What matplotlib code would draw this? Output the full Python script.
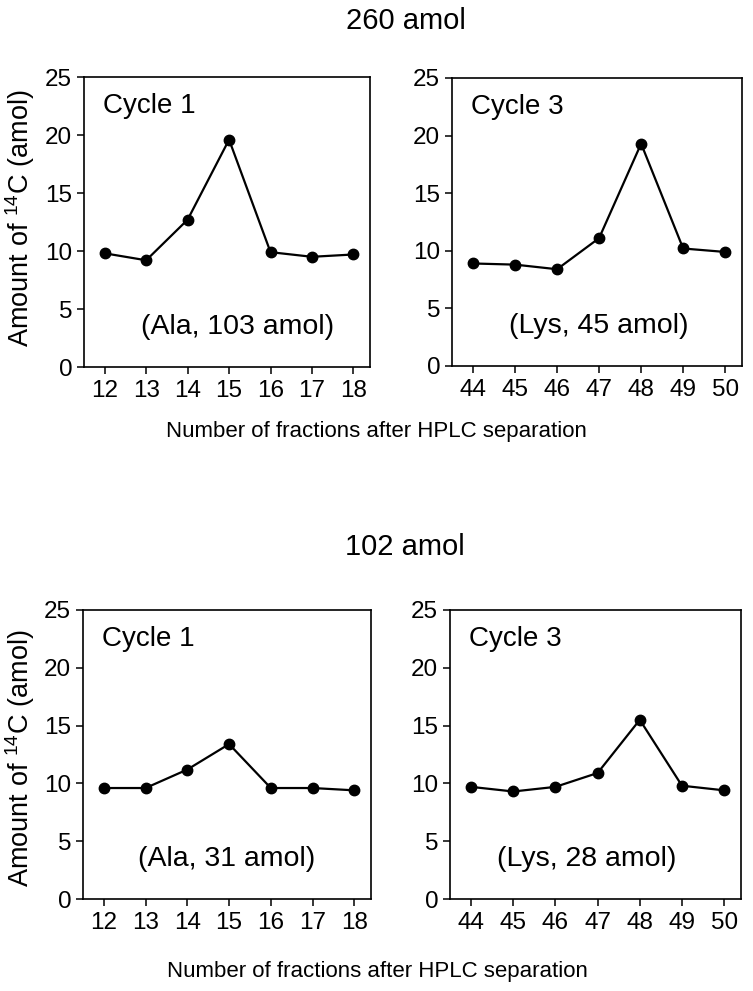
import matplotlib
matplotlib.use("Agg")
import matplotlib.pyplot as plt

plt.rcParams['font.family'] = ['Liberation Sans', 'DejaVu Sans']
plt.rcParams['mathtext.fontset'] = 'custom'
plt.rcParams['mathtext.rm'] = 'Liberation Sans'
plt.rcParams['mathtext.default'] = 'regular'

# Data
fractions_ala = [12, 13, 14, 15, 16, 17, 18]
fractions_lys = [44, 45, 46, 47, 48, 49, 50]
top_ala = [9.8, 9.2, 12.7, 19.6, 9.9, 9.5, 9.7]
top_lys = [8.9, 8.8, 8.4, 11.1, 19.3, 10.2, 9.9]
bot_ala = [9.6, 9.6, 11.2, 13.4, 9.6, 9.6, 9.4]
bot_lys = [9.7, 9.3, 9.7, 10.9, 15.5, 9.8, 9.4]
yticks = [0, 5, 10, 15, 20, 25]
group_titles = ["260 amol", "102 amol"]
cycle_labels = ["Cycle 1", "Cycle 3"]
notes_top = ["(Ala, 103 amol)", "(Lys, 45 amol)"]
notes_bot = ["(Ala, 31 amol)", "(Lys, 28 amol)"]
xlabel = "Number of fractions after HPLC separation"
ylabel = "Amount of $^{14}$C (amol)"

W, H = 753, 991
fig = plt.figure(figsize=(W / 100, H / 100), dpi=100)

def box(l, t, r, b):
    return [l / W, 1 - b / H, (r - l) / W, (b - t) / H]

panels = [
    (box(84, 77, 370, 367), fractions_ala, top_ala, cycle_labels[0], notes_top[0], 15.2),
    (box(452, 78, 742, 366), fractions_lys, top_lys, cycle_labels[1], notes_top[1], 47.0),
    (box(83, 610, 371, 899), fractions_ala, bot_ala, cycle_labels[0], notes_bot[0], 14.95),
    (box(450, 610, 741, 899), fractions_lys, bot_lys, cycle_labels[1], notes_bot[1], 46.75),
]

for rect, xs, ys, cyc, note, nx in panels:
    ax = fig.add_axes(rect)
    ax.plot(xs, ys, color='black', lw=1.6, marker='o', ms=7.5)
    ax.set_xlim(xs[0] - 0.5, xs[-1] + 0.4)
    ax.set_ylim(0, 25)
    ax.set_yticks(yticks)
    ax.set_xticks(xs)
    ax.tick_params(direction='out', length=5, width=1.1, labelsize=17.5)
    ax.tick_params(axis='y', pad=3.5)
    ax.tick_params(axis='x', pad=4.5)
    for s in ax.spines.values():
        s.set_linewidth(1.2)
    ax.text(xs[0] - 0.05, 22.5, cyc, fontsize=20, va='center', ha='left')
    ax.text(nx, 3.45, note, fontsize=20.5, va='center', ha='center')

fig.text(406 / W, 1 - 21 / H, group_titles[0], fontsize=21, ha='center', va='center')
fig.text(405 / W, 1 - 547 / H, group_titles[1], fontsize=21, ha='center', va='center')
fig.text(376 / W, 1 - 432 / H, xlabel, fontsize=16, ha='center', va='center')
fig.text(377 / W, 1 - 972 / H, xlabel, fontsize=16, ha='center', va='center')
fig.text(20 / W, 1 - 218 / H, ylabel, fontsize=19.5, rotation=90, ha='center', va='center')
fig.text(20 / W, 1 - 758 / H, ylabel, fontsize=19.5, rotation=90, ha='center', va='center')

fig.savefig("out.png", dpi=100)
